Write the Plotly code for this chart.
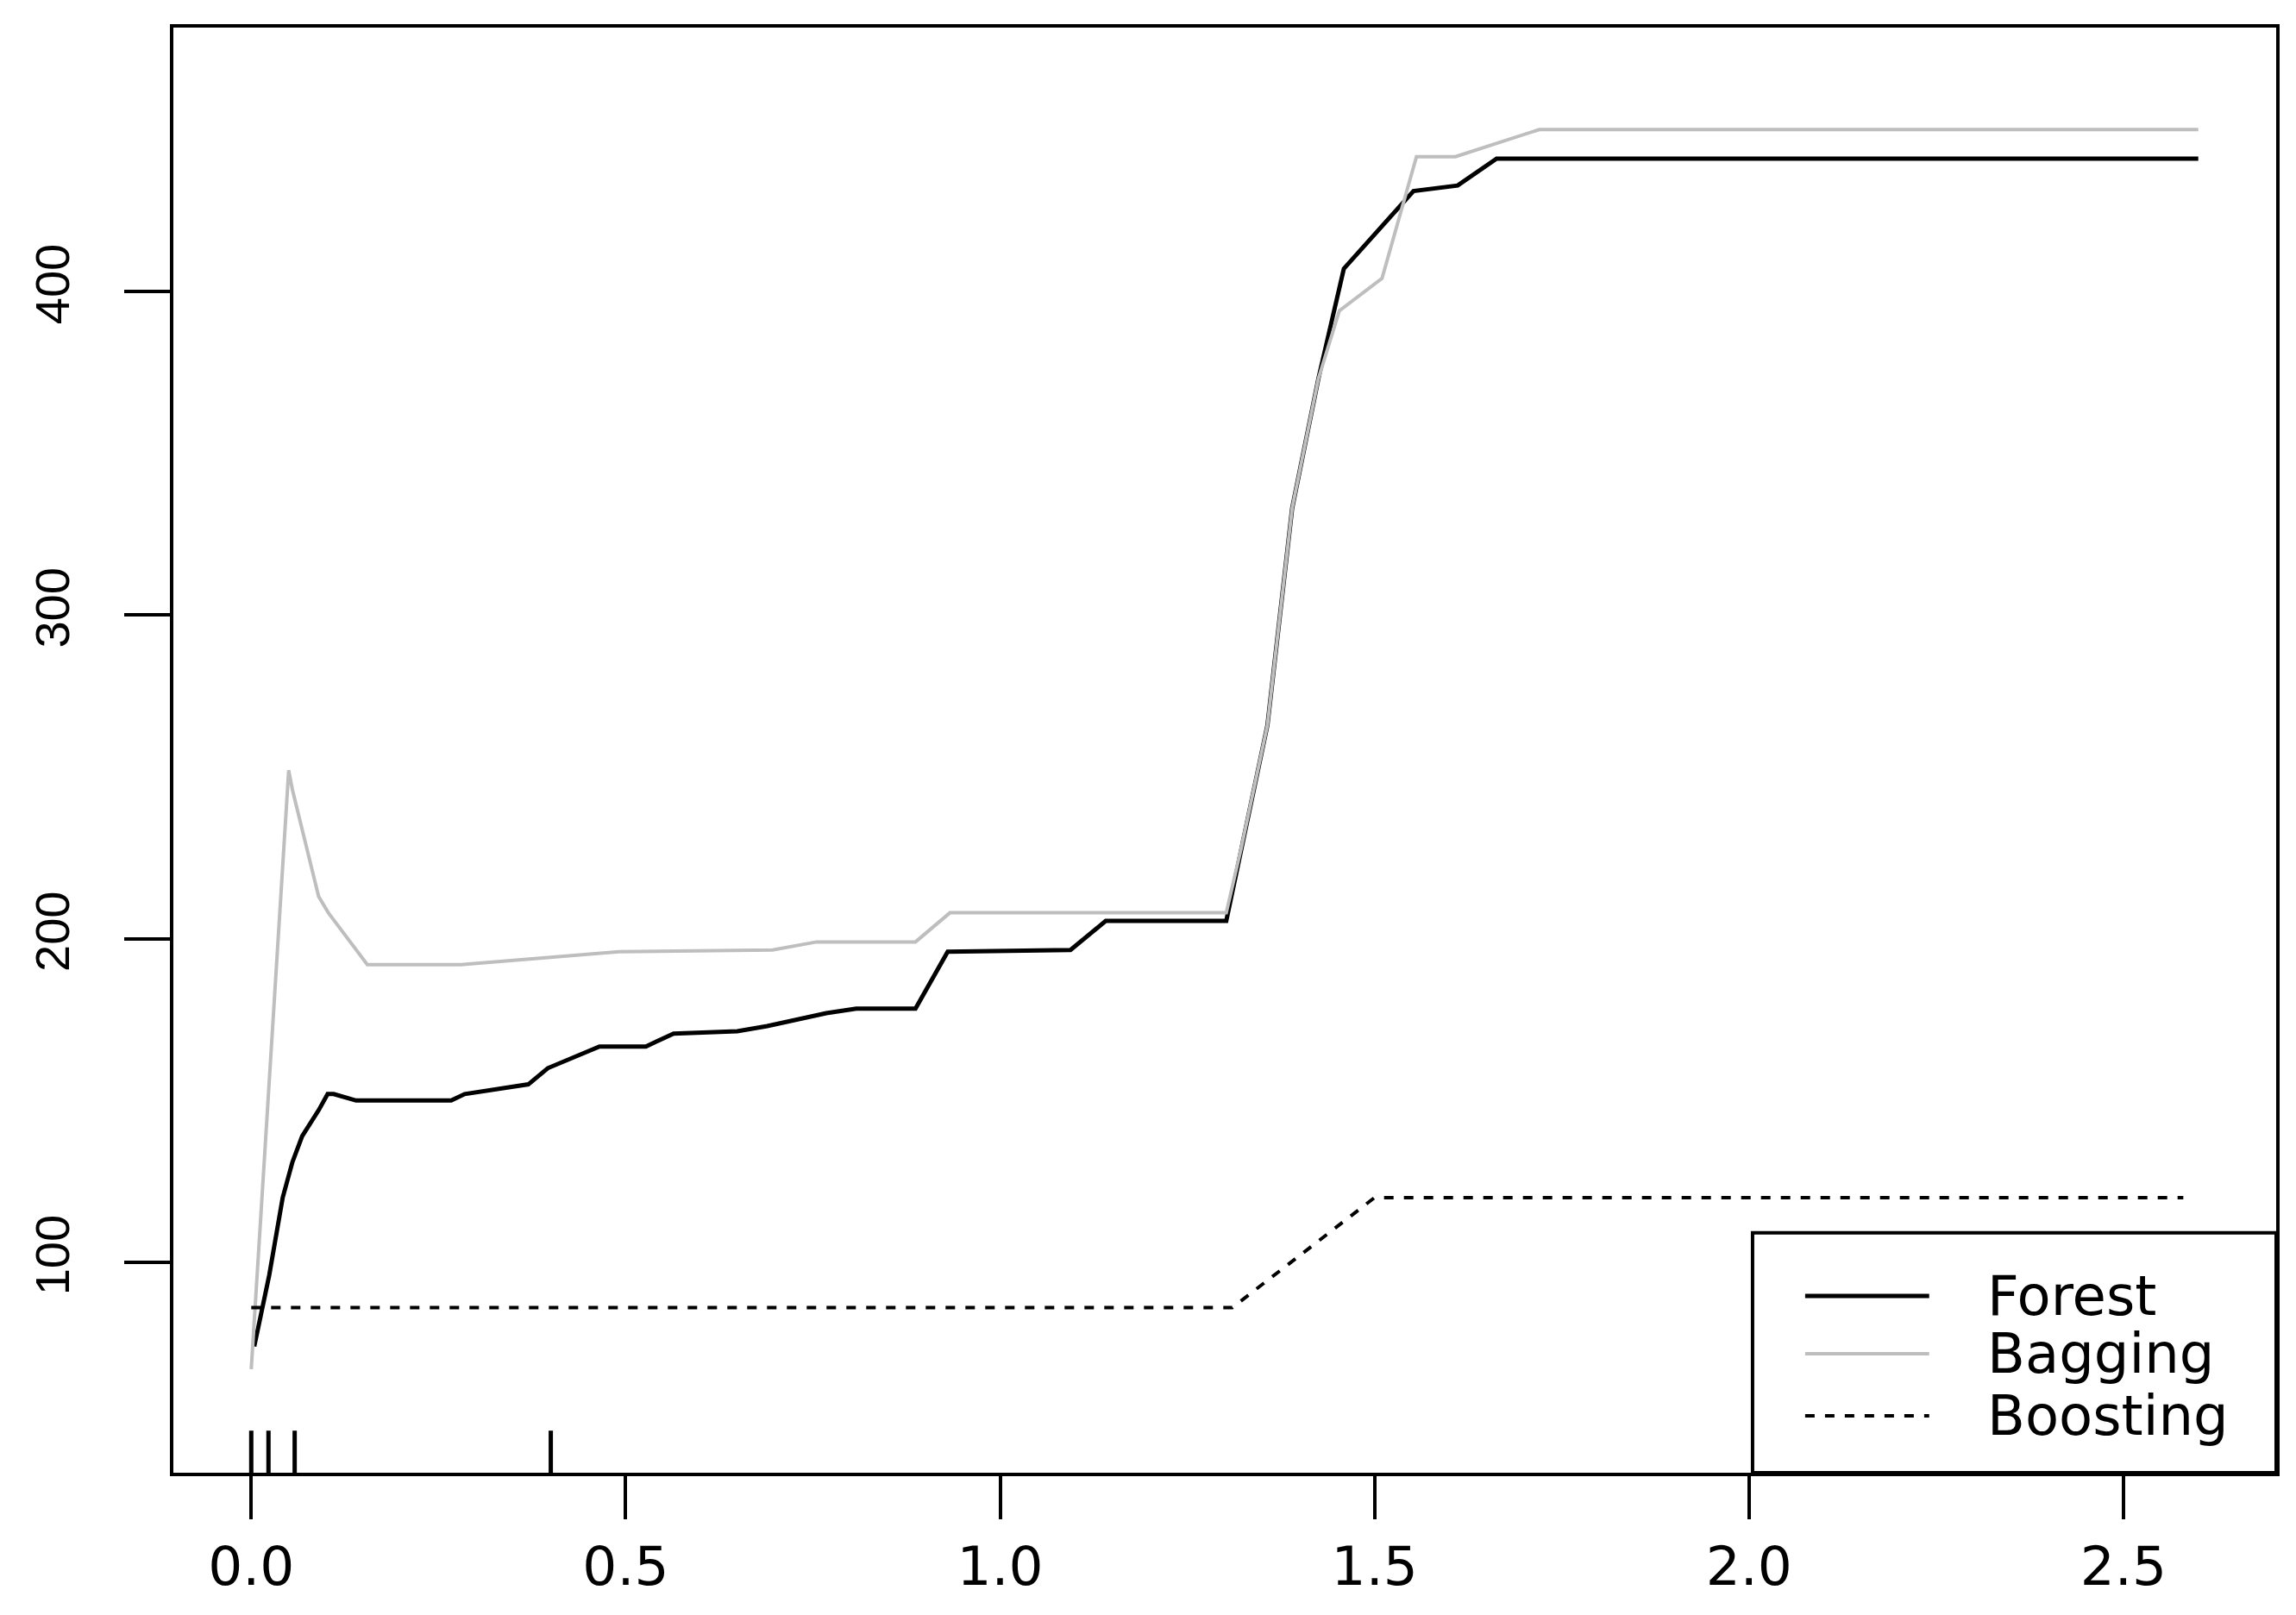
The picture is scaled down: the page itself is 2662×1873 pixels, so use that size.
import plotly.graph_objects as go

# partial dependence curves
forest_x = [0.004, 0.024, 0.042, 0.055, 0.068, 0.09, 0.102, 0.11, 0.14, 0.267, 0.285, 0.37,
            0.396, 0.465, 0.527, 0.564, 0.649, 0.689, 0.768, 0.808, 0.887, 0.93, 1.094,
            1.141, 1.302, 1.322, 1.357, 1.39, 1.425, 1.459, 1.552, 1.611, 1.663, 2.6]
forest_y = [74, 96, 120, 131, 139, 147, 152, 152, 150, 150, 152, 155,
            160, 166.7, 166.7, 170.7, 171.4, 173, 177, 178.4, 178.4, 196, 196.5,
            205.5, 205.5, 228, 266, 333, 373, 407, 431, 432.7, 441, 441]

bagging_x = [0, 0.05, 0.055, 0.068, 0.09, 0.103, 0.155, 0.28, 0.39, 0.491, 0.696, 0.755,
             0.887, 0.933, 1.302, 1.322, 1.357, 1.39, 1.425, 1.453, 1.51, 1.556, 1.608,
             1.686, 1.72, 2.6]
bagging_y = [67, 252, 246, 234, 213, 208, 192, 192, 194, 196, 196.5, 199,
             199, 208, 208, 228, 266, 333, 373, 394, 404, 441.6, 441.6,
             447.6, 450, 450]

boosting_x = [0, 1.31, 1.5, 2.58]
boosting_y = [86, 86, 120, 120]

rug_x = [0, 0.023, 0.058, 0.4]

names = ["Forest", "Bagging", "Boosting"]
colors = ["black", "#BEBEBE", "black"]
dashes = ["solid", "solid", "11px,12px"]
widths = [5, 4, 4]

x_range = [-0.104, 2.704]
y_range = [35, 481.5]

fig = go.Figure()

series = [(forest_x, forest_y), (bagging_x, bagging_y), (boosting_x, boosting_y)]
for (xs, ys), nm, c, d, w in zip(series, names, colors, dashes, widths):
    fig.add_trace(go.Scatter(x=xs, y=ys, mode="lines", name=nm,
                             line=dict(color=c, width=w, dash=d), showlegend=False))

# rug at the bottom
rx, ry = [], []
for v in rug_x:
    rx += [v, v, None]
    ry += [y_range[0], y_range[0] + 13, None]
fig.add_trace(go.Scatter(x=rx, y=ry, mode="lines", line=dict(color="black", width=5),
                         showlegend=False, hoverinfo="skip"))

# legend box drawn by hand (bottom right, like R's legend)
fig.add_shape(type="rect", xref="paper", yref="paper", x0=0.751, x1=1, y0=0, y1=0.166,
              line=dict(color="black", width=4), fillcolor="white", layer="above")
leg_y = [0.1223, 0.0823, 0.0394]
for nm, c, d, w, yy in zip(names, colors, dashes, widths, leg_y):
    fig.add_shape(type="line", xref="paper", yref="paper", x0=0.776, x1=0.835, y0=yy, y1=yy,
                  line=dict(color=c, width=w, dash=d), layer="above")
    fig.add_annotation(text=nm, xref="paper", yref="paper", x=0.8617, y=yy,
                       xanchor="left", yanchor="middle", showarrow=False,
                       font=dict(family="DejaVu Sans", size=64, color="black"))

fig.update_layout(
    width=2662, height=1873,
    margin=dict(l=193, r=31, t=24, b=173),
    plot_bgcolor="white", paper_bgcolor="white",
)
fig.update_xaxes(range=x_range, tickvals=[0, 0.5, 1.0, 1.5, 2.0, 2.5], tickformat=".1f",
                 showgrid=False, zeroline=False, showline=True, linecolor="black",
                 linewidth=4, mirror=True, ticks="outside", ticklen=50, tickwidth=4,
                 tickcolor="black",
                 tickfont=dict(family="DejaVu Sans", size=63, color="black"))
fig.update_yaxes(range=y_range, tickvals=[100, 200, 300, 400], tickangle=-90,
                 showgrid=False, zeroline=False, showline=True, linecolor="black",
                 linewidth=4, mirror=True, ticks="outside", ticklen=53, tickwidth=4,
                 tickcolor="black", ticklabelstandoff=42,
                 tickfont=dict(family="Liberation Sans", size=56, color="black"))

fig.write_html("out.html")
